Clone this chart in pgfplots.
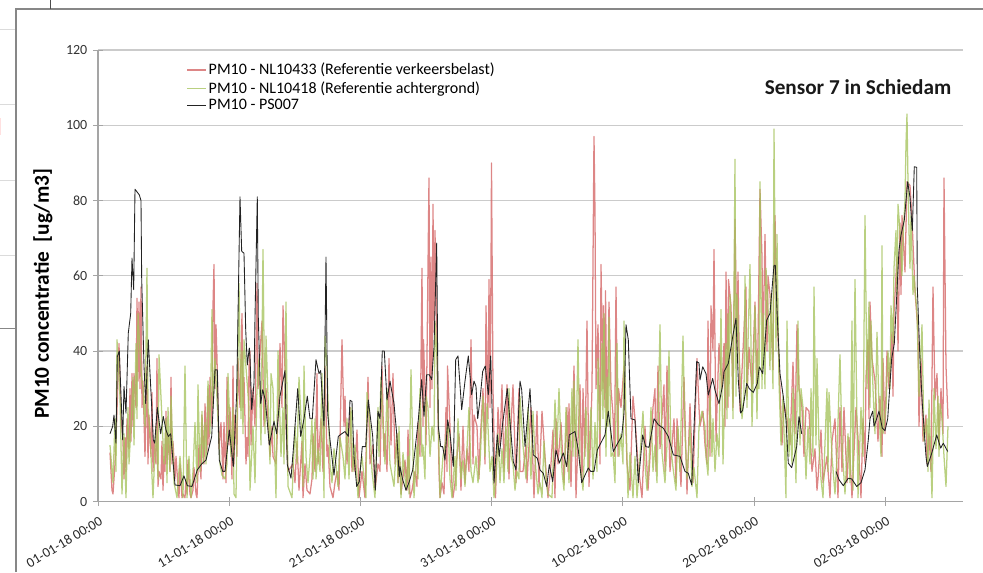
\documentclass[border=0pt]{standalone}
\usepackage{fontspec}
\setmainfont{Carlito}
\usepackage{pgfplots}
\usepackage{pgfplotstable}
\pgfplotsset{compat=1.18}
\definecolor{redl}{RGB}{212,100,100}
\definecolor{greenl}{RGB}{165,195,92}
\definecolor{blackl}{RGB}{35,35,35}
\definecolor{gridg}{RGB}{203,203,203}
\definecolor{axg}{RGB}{165,165,165}
\definecolor{frameg}{RGB}{135,135,135}
\pgfplotstableread[row sep=\\]{
p v\\
12 13\\14 3\\15 2\\17 10\\19 24\\21 42\\23 22\\25 16\\26 6\\27 17\\28 8\\29 22\\31 14\\32 30\\33 16\\34 34\\35 20\\36 34\\38 25\\39 54\\40 32\\41 53\\42 30\\43 57\\44 25\\45 32\\47 12\\49 36\\50 10\\51 23\\53 12\\54 29\\55 8\\56 16\\58 10\\59 38\\60 4\\61 8\\63 6\\64 16\\65 3\\66 12\\67 8\\68 24\\69 10\\70 18\\72 8\\73 33\\74 10\\75 16\\77 6\\78 12\\80 4\\81 1\\82 10\\84 1\\85 2\\87 1\\88 6\\89 2\\90 11\\92 2\\93 1\\95 3\\96 9\\98 2\\99 1\\101 15\\103 6\\104 23\\106 10\\107 26\\109 13\\110 30\\111 15\\112 33\\114 20\\115 52\\116 63\\117 30\\118 47\\119 38\\121 14\\123 21\\125 6\\126 21\\128 5\\129 33\\131 15\\132 25\\134 6\\135 36\\136 10\\137 23\\139 12\\140 38\\142 25\\144 50\\145 25\\146 33\\148 10\\149 17\\150 12\\151 36\\
152 40\\153 15\\155 30\\157 20\\159 58\\160 30\\161 35\\164 48\\166 20\\168 30\\170 22\\172 12\\174 20\\175 12\\178 10\\181 28\\182 42\\184 25\\185 52\\187 35\\188 20\\190 8\\195 10\\197 5\\199 16\\201 3\\204 16\\205 1\\207 10\\209 3\\212 2\\214 6\\215 18\\217 8\\219 34\\220 10\\223 22\\225 8\\227 36\\229 12\\230 15\\232 4\\235 1\\237 5\\239 8\\241 3\\244 43\\246 20\\247 28\\249 10\\252 25\\254 8\\255 12\\257 8\\259 19\\261 1\\264 8\\267 1\\270 33\\272 10\\275 15\\277 3\\280 10\\282 8\\284 36\\286 12\\287 18\\289 8\\291 38\\293 15\\295 34\\297 10\\299 18\\300 5\\301 14\\
302 10\\303 2\\307 11\\309 3\\310 19\\312 1\\314 3\\317 8\\319 4\\320 21\\322 12\\324 62\\325 20\\325.5 43\\327 30\\328 15\\331 86\\332 25\\333 65\\334 30\\335 79\\336 45\\337 72\\339 40\\341 8\\342 1\\344 5\\346 2\\348 25\\349 8\\349.5 36\\352 20\\354 4\\355 1\\357 5\\359 12\\361 18\\363 3\\365 20\\367 5\\369 14\\371 8\\373 43\\375 10\\376 23\\379 20\\381 6\\382 15\\385 30\\387 10\\388 52\\390 22\\391 59\\392 25\\393 61\\393.5 90\\395 30\\397 4\\397.5 1\\399 14\\400 25\\402 15\\404 31\\406 8\\409 31\\411 6\\411.5 12\\415 31\\418 5\\421 30\\422 8\\425 8\\428 15\\429 5\\433 25\\436 1\\439 24\\441 4\\444 24\\447 12\\450 1\\
453 10\\455 19\\457 1\\458 22\\460 10\\463 21\\466 5\\469 25\\470 8\\471 26\\473 4\\476 36\\478 1\\482 31\\484 5\\485 30\\487 12\\489 48\\491 4\\494 30\\496 97\\497 77\\498 30\\500 47\\502 10\\503 63\\505 30\\505.5 52\\507 25\\507.5 56\\509 20\\511 53\\513 30\\515 23\\516.5 12\\518 57\\520 12\\520.5 30\\523 25\\526 36\\529 10\\532 3\\535 28\\537 22\\540 10\\544 1\\547 20\\550 3\\555 25\\557 30\\558 8\\560 36\\562 14\\566 31\\567 8\\569 36\\572 8\\576 22\\578 5\\579 22\\583 4\\586 33\\589 2\\592 26\\595 5\\599 38\\601 25\\
602 20\\605 24\\607 15\\609 10\\610 48\\612 12\\613 52\\615 40\\616 67\\618 16\\621 42\\624 30\\626 42\\627 20\\628 61\\630 25\\630.5 59\\633 52\\635 25\\637 75\\639 40\\640 61\\642 24\\645 40\\648 57\\649 28\\651 41\\654 30\\657 53\\659 30\\660 42\\662 83\\664 65\\665 40\\667 71\\669 40\\670 60\\672 55\\675 35\\675.5 52\\677 76\\679 50\\682 30\\684 15\\686 26\\689 22\\692 15\\695 37\\697 18\\699 47\\701 30\\704 25\\706 12\\708 25\\711 24\\714 8\\717 14\\719 3\\720 6\\723 19\\725 5\\
729 12\\732 1\\734 16\\737 22\\740 1\\742 25\\744 8\\746 25\\749 5\\751 17\\754 1\\758 25\\760 17\\763 1\\765 22\\767 10\\768 33\\770 43\\771 22\\772 53\\774 38\\777 32\\780 16\\782 28\\784 12\\785 38\\787 18\\789 40\\791 30\\794 45\\795 28\\796 50\\799 65\\800 40\\802 74\\803 55\\804 76\\807 61\\809 85\\812 84\\814 75\\817 56\\820 45\\821 20\\823 38\\825 16\\828 23\\829 10\\831 18\\833 8\\835 57\\837 27\\839 34\\841 15\\843 30\\845 18\\846 86\\848 36\\850 22\\
}\redtab
\pgfplotstableread[row sep=\\]{
p v\\
12 15\\15 5\\17 22\\18 8\\19 43\\22 28\\24 2\\26 18\\28 1\\30 25\\31 10\\33 20\\35 33\\36 15\\38 42\\39 22\\40 50\\43 35\\45 30\\47 20\\49 62\\50 25\\52 18\\55 1\\58 20\\60 6\\61 39\\64 22\\66 10\\68 22\\69 5\\70 25\\72 8\\73 28\\76 5\\79 1\\82 12\\85 1\\87 36\\89 1\\91 12\\93 1\\95 8\\97 21\\99 5\\100 31\\102 8\\104 24\\105 10\\107 21\\108 10\\110 32\\112 18\\114 51\\115 25\\117 38\\120 22\\122 10\\124 7\\127 6\\129 10\\130 34\\133 12\\135 25\\136 2\\138 1\\141 58\\143 22\\144 40\\145 18\\146 43\\149 32\\151 25\\
152 3\\155 20\\157 5\\159 30\\161 38\\163 15\\165 67\\167 18\\168 44\\170 28\\172 10\\173 34\\175 30\\178 1\\180 40\\183 12\\185 25\\186 10\\188 53\\190 4\\194 1\\197 20\\199 10\\201 33\\204 17\\205 4\\206 36\\208 12\\210 5\\212 12\\214 22\\215 6\\217 22\\218 6\\220 14\\222 8\\224 34\\226 1\\227 44\\229 36\\232 10\\234 5\\236 14\\238 10\\240 4\\242 17\\245 12\\247 6\\249 22\\251 6\\253 25\\255 8\\257 15\\260 1\\262 8\\264 12\\268 1\\269 29\\272 20\\274 8\\277 1\\280 25\\281 12\\283 33\\285 20\\287 10\\289 30\\292 10\\296 4\\299 18\\300 5\\301 20\\
302 9\\303 1\\305 13\\308 3\\310 12\\311 2\\313 35\\316 1\\319 15\\320 6\\322 30\\324 12\\325 15\\327 6\\328 28\\330 25\\332 12\\334 20\\336 16\\337 48\\339 38\\342 1\\345 12\\347 15\\350 21\\352 6\\354 1\\357 12\\358 3\\360 22\\363 6\\365 11\\367 4\\369 14\\371 25\\373 8\\375 5\\378 12\\380 5\\382 10\\385 28\\387 12\\389 26\\392 8\\394 12\\396 1\\398 6\\400 18\\402 5\\404 14\\406 5\\408 20\\410 8\\411 30\\413 12\\415 10\\417 3\\419 8\\421 6\\422 28\\425 15\\428 6\\430 25\\433 6\\435 24\\437 12\\438 8\\440 2\\442 5\\444 1\\446 16\\448 6\\450 2\\
454 1\\457 27\\459 14\\461 30\\464 8\\466 3\\468 25\\471 5\\474 30\\475 12\\476 32\\478 12\\480 43\\482 10\\485 3\\488 25\\490 8\\493 25\\495 6\\497 21\\499 8\\500 38\\502 18\\504 42\\505 22\\506 50\\508 12\\509 33\\510 20\\511 49\\513 12\\515 13\\517 5\\519 42\\521 12\\523 18\\525 10\\526 48\\528 22\\530 1\\532 13\\535 1\\537 12\\539 1\\541 8\\543 16\\545 24\\547 10\\549 3\\551 10\\553 25\\555 8\\557 15\\559 5\\562 47\\564 13\\567 5\\569 15\\571 40\\573 14\\575 9\\578 3\\580 20\\582 8\\585 44\\587 18\\589 6\\592 20\\594 4\\596 9\\599 1\\601 20\\
604 24\\607 20\\608 12\\610 7\\612 28\\614 12\\615 22\\617 8\\619 18\\621 12\\623 51\\625 10\\628 42\\629 22\\630 50\\631 28\\632 55\\634 40\\635 22\\637 91\\638 28\\639 55\\641 40\\644 22\\646 28\\647 60\\649 25\\650 42\\652 63\\654 20\\655 30\\657 52\\659 22\\660 40\\661 30\\662 85\\664 30\\665 50\\667 30\\668 62\\670 52\\672 35\\673 55\\675 30\\676 99\\678 40\\679 71\\681 32\\683 15\\685 28\\687 10\\688 1\\689 48\\691 12\\692 22\\694 10\\695 30\\698 5\\700 48\\702 15\\703 30\\705 25\\707 14\\708 6\\710 20\\712 10\\713 30\\715 12\\716 57\\718 15\\719 38\\721 15\\723 6\\725 1\\
729 30\\730 8\\731 29\\734 12\\737 2\\739 12\\742 39\\744 15\\747 2\\750 18\\752 5\\754 48\\755 3\\757 59\\760 1\\763 25\\765 12\\767 76\\769 30\\771 53\\772 25\\773 48\\775 30\\777 18\\779 45\\781 25\\783 12\\784 68\\785 18\\788 25\\790 40\\792 30\\793 52\\795 42\\796 62\\798 72\\799 55\\800 79\\802 72\\804 60\\805 70\\807 80\\808 95\\809 103\\810 85\\811 72\\812 62\\813 76\\815 55\\816 60\\819 50\\821 28\\824 47\\826 16\\829 22\\830 8\\831 27\\834 1\\836 30\\838 14\\840 28\\841 12\\842 26\\844 22\\846 12\\848 4\\850 20\\
}\greentab
\pgfplotstableread[row sep=\\]{
p v\\
12 18\\14.7 20\\16 23\\18 15.5\\19.3 38.5\\21.3 40\\24.7 16.4\\26 30.6\\28 23.5\\30.3 44.8\\32.7 50\\34 64.7\\35.7 56.3\\37 83\\41.3 81.5\\43 80\\43.7 59\\46 36\\47.7 26\\50.3 43\\53.7 25.3\\55.3 16.4\\56.7 15.5\\59.3 25\\62.7 18\\65.3 22.6\\68 19\\70.3 17.3\\72.7 18\\77 4.4\\82 4.2\\86 6.8\\89.3 4.2\\94 4\\99.3 8.4\\103.7 10\\108 11\\113.7 17.3\\117 35\\119.3 35\\121.3 11\\124.7 8\\127 8\\131.3 19\\135.3 9.3\\138.7 28.8\\142 81\\143.7 66.5\\146 66\\147.7 45.7\\149.3 36.3\\151.3 40.8\\
152 38.5\\153.7 24.4\\156 31.5\\157 48.8\\159.3 81\\160.3 49\\162.7 26\\164.7 29.7\\167.3 27\\171.3 15\\176 21.3\\178.7 18\\182 28\\187 34.8\\189.3 9.8\\193 6.2\\195.3 13.7\\199.7 30\\202.7 17.3\\206 22\\209.3 28\\212 22\\214.3 22\\218 37.7\\221 34\\222.7 34.8\\226 20\\228 65\\229.7 23.5\\232 16.4\\236 7\\240.3 17.3\\243.7 18\\247 18.6\\250.3 17.3\\252 26.9\\254 26.6\\256 12\\258.7 4\\261.3 5.3\\264.3 14.6\\267.7 14.6\\270.3 27\\274.7 17.3\\277.3 3\\280 24\\282 22\\284.3 40\\286.3 40\\289 27\\292 32\\296 26\\298.7 18\\301.3 6.6\\
302 9.3\\304.7 5.8\\308 3\\311.3 5.3\\314.7 8.4\\317 13.7\\320.3 21.7\\323.7 32.4\\326 22.6\\328.7 33.7\\331.3 33.7\\333.7 32.4\\336 41\\338.7 68.7\\340.3 20\\342.7 14.6\\344.7 14.6\\347 11\\349.7 21.7\\352 18\\355.3 9.3\\357.7 37.7\\360 38.7\\363.7 24.4\\367 32\\370.3 38.7\\373.7 28.4\\376 32\\378 30.6\\379.7 22\\382 27\\384.7 34.6\\387.3 36\\390.3 28.4\\392.7 38.7\\396 4.9\\399.3 17.7\\401.3 12\\404.7 20.8\\409.3 30\\415.3 10.6\\418 8.4\\422 32\\423.7 29.7\\427 14.6\\432 30\\435.3 12.4\\439.3 11.5\\442 8.4\\445.3 7.5\\448.7 4\\451.3 9.8\\
454.7 5.3\\458 13.7\\461.3 10.2\\465.3 12.9\\468.7 9.3\\471.3 17.7\\477 18.6\\480.3 13.7\\483.7 5\\487 7\\490.3 8.9\\492.7 8\\496 8\\499.3 13.7\\503.7 16\\507 17.7\\510.3 24\\515.3 13.3\\519.7 15.5\\523.7 17.3\\526 23.5\\528 47\\530.3 43\\533 22\\537 21.7\\540.3 5\\544.7 17.7\\547.7 14.6\\551 14.4\\556 22\\560.3 20.4\\565.3 19.5\\570.3 17.3\\575.3 12.4\\582 12\\587 8\\590.3 7.5\\593.7 4.4\\598.7 37.2\\601 36.8\\
602 32.3\\604.7 35.8\\608 34\\610.3 28.3\\614.7 32.7\\617 29.6\\621 26\\624.7 31\\626 34.5\\630.3 36.7\\634.7 43.8\\638 48.7\\640.3 32.3\\642.7 23.5\\644.7 24.3\\648.7 31.4\\651.3 30\\655.3 29\\659.3 31.4\\661.3 35.8\\664.7 34\\668.7 48.2\\672 50\\676 62.8\\677.3 62.8\\679.3 49\\682 34\\685.3 27.9\\688 21.7\\690.3 10.2\\693.7 9\\698.7 14.6\\701 22.6\\703.7 18\\
720 nan\\
738 8\\741 5.8\\745.3 4.2\\750.3 6.2\\753.7 6\\758.7 4\\763 5\\767 8.4\\770.3 16.4\\772 22\\774.7 24\\776 20\\778.7 22\\781 24\\784.3 19.5\\787 18.8\\789.7 22\\792 31.4\\793.7 38\\796.3 42\\798.7 54.4\\801 66.8\\803 70.8\\806.3 74.8\\809.7 85\\812 80.8\\814.3 72\\816.3 89\\818.7 88.8\\819.3 57\\822 37.6\\824.3 26\\828 12\\829.3 9.3\\833.7 12.8\\838.7 17.7\\842.7 14.2\\845.3 15.5\\849.7 13.3\\
}\blacktab
\begin{document}
\begin{tikzpicture}[x=0.75pt,y=-0.75pt]
\path[use as bounding box] (0,0) rectangle (983,572);
\coordinate (O) at (98,501.5);
% page furniture of the screenshot
\draw[gridg!70!white,line width=0.7pt] (0,29)--(16,29) (0,104)--(16,104) (0,180)--(16,180) (0,255)--(16,255);
\draw[frameg,line width=0.7pt] (0,328)--(16,328);
\fill[red!12] (0,118) rectangle (1.5,135);
\draw[frameg,line width=0.9pt] (16,572)--(16,9)--(983,9);
\draw[black!70,line width=0.6pt] (50,0)--(50,9);
\begin{axis}[
  at={(O)},anchor=south west,
  scale only axis,width=648.75pt,height=338.6pt,
  xmin=0,xmax=65.93,ymin=0,ymax=120,
  axis lines=left,
  axis line style={-,draw=axg,line width=0.8pt},
  unbounded coords=jump,
  xtick={0,10,...,60},
  xticklabels={01-01-18 00:00,11-01-18 00:00,21-01-18 00:00,31-01-18 00:00,10-02-18 00:00,20-02-18 00:00,02-03-18 00:00},
  ytick={0,20,...,120},
  tick style={draw=axg,line width=0.7pt},
  tick align=center,
  major tick length=7pt,
  ymajorgrids,
  grid style={draw=gridg,line width=1.05pt},
  /pgf/number format/assume math mode=true,
  yticklabel style={font=\fontsize{10.5}{12}\selectfont,text=black!80,xshift=-1pt},
  xticklabel style={font=\fontsize{10.4}{12}\selectfont,text=black!85,rotate=31,anchor=north east,xshift=0pt,yshift=-3pt},
  ylabel={\bfseries PM10 concentratie \ [ug/m3]},
  ylabel style={font=\fontsize{16}{18}\selectfont,at={(axis description cs:-0.0636,0.46)},anchor=center},
  legend cell align=left,
  legend style={at={(0.102,0.976)},anchor=north west,draw=none,fill=none,
    font=\fontsize{12}{14}\selectfont,row sep=0.4pt,inner sep=0pt,
    nodes={inner sep=1.5pt}},
  legend image code/.code={\draw[#1] (0cm,0cm)--(0.5cm,0cm);},
]
\addplot[redl,line width=0.95pt,opacity=0.78,line join=round] table[x expr=\thisrowno{0}/13.12,y index=1] {\redtab};
\addlegendentry{PM10 - NL10433 (Referentie verkeersbelast)}
\addplot[greenl,line width=0.95pt,opacity=0.78,line join=round] table[x expr=\thisrowno{0}/13.12,y index=1] {\greentab};
\addlegendentry{PM10 - NL10418 (Referentie achtergrond)}
\addplot[blackl,line width=0.65pt,line join=round] table[x expr=\thisrowno{0}/13.12,y index=1] {\blacktab};
\addlegendentry{\rule[-3pt]{0pt}{1pt}PM10 - PS007}
\end{axis}
\node[font=\fontsize{15.9}{18}\selectfont\bfseries,text=black!90] at (858,87) {Sensor 7 in Schiedam};
\end{tikzpicture}
\end{document}
